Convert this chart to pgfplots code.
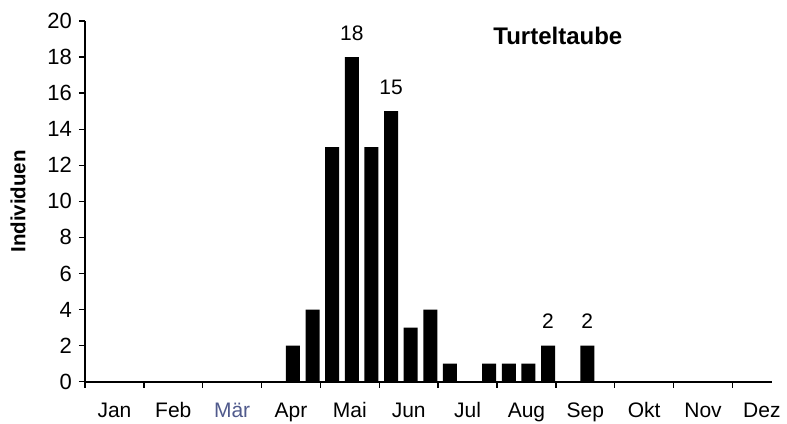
\documentclass[border=0pt]{standalone}
\usepackage{fontspec}
\setmainfont{Liberation Sans}
\usepackage{pgfplots}
\pgfplotsset{compat=1.18}
\usetikzlibrary{calc}
\definecolor{maerz}{RGB}{80,90,140}

\begin{document}
\fontsize{21}{24}\selectfont
\begin{tikzpicture}
\begin{axis}[
  name=ax,
  scale only axis,
  width=686.7pt, height=360.7pt,
  xmin=0, xmax=35, ymin=0, ymax=20,
  axis lines=left,
  axis line style={-, line width=1.6pt},
  every tick/.style={black, line width=1.4pt},
  tick align=outside,
  major tick length=6pt,
  xtick={0,3,...,33},
  xticklabels={},
  extra x ticks={1.5,4.5,...,34.5},
  extra x tick labels={Jan,Feb,\textcolor{maerz}{Mär},Apr,Mai,Jun,Jul,Aug,Sep,Okt,Nov,Dez},
  extra x tick style={major tick length=0pt},
  xticklabel style={anchor=base, inner sep=0pt, yshift=-36pt},
  ytick={0,2,...,20},
  yticklabel style={anchor=east, inner sep=0pt, xshift=-7pt, font=\fontsize{22}{24}\selectfont},
  /pgf/number format/assume math mode=true,
  clip=false,
]
\addplot[ybar, bar width=14pt, fill=black, draw=none] coordinates {
  (10.6,2) (11.6,4) (12.6,13) (13.6,18) (14.6,13) (15.6,15) (16.6,3)
  (17.6,4) (18.6,1) (20.6,1) (21.6,1) (22.6,1) (23.6,2) (25.6,2)};
\node[anchor=base, yshift=17pt] at (axis cs:13.6,18) {18};
\node[anchor=base, yshift=17pt] at (axis cs:15.6,15) {15};
\node[anchor=base, yshift=17pt] at (axis cs:23.6,2) {2};
\node[anchor=base, yshift=17pt] at (axis cs:25.6,2) {2};
\node[anchor=base, font=\fontsize{24}{27}\selectfont\bfseries] at (axis cs:24.1,18.67) {Turteltaube};
\end{axis}
\node[rotate=90, font=\fontsize{20.5}{23}\selectfont\bfseries] at ([xshift=-67pt]ax.west) {Individuen};
\pgfresetboundingbox
\path ([xshift=-85pt, yshift=-41.3pt]ax.south west) rectangle ([xshift=15.3pt, yshift=21pt]ax.north east);
\end{tikzpicture}
\end{document}
